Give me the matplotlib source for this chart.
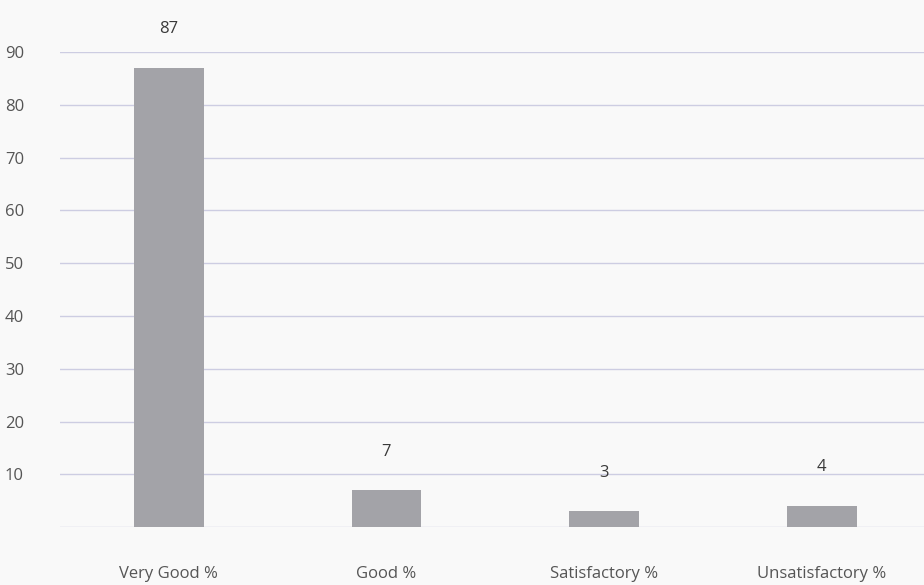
#!/usr/bin/env python3
import matplotlib
matplotlib.use("Agg")
import matplotlib.pyplot as plt

categories = ["Very Good %", "Good %", "Satisfactory %", "Unsatisfactory %"]
values = [87, 7, 3, 4]
yticks = [0, 10, 20, 30, 40, 50, 60, 70, 80, 90]
ytick_labels = ["", "10", "20", "30", "40", "50", "60", "70", "80", "90"]

plt.rcParams['font.family'] = ['Open Sans', 'DejaVu Sans']

fig = plt.figure(figsize=(9.24, 5.85), dpi=100, facecolor="#f9f9f9")
ax = fig.add_axes([0.065, 0.099, 0.935, 0.812])
ax.set_facecolor("#f9f9f9")

xs = list(range(len(categories)))
ax.bar(xs, values, width=0.32, color="#a3a3a8", zorder=3)

for x, v in zip(xs, values):
    ax.annotate(str(v), (x, v), xytext=(0, 22), textcoords="offset points",
                ha="center", va="bottom", fontsize=12, color="#3a3a3a",
                annotation_clip=False)

ax.set_xlim(-0.5, 3.47)
ax.set_ylim(0, 90)
ax.set_yticks(yticks)
ax.set_yticklabels(ytick_labels)
ax.set_xticks(xs)
ax.set_xticklabels(categories)
ax.grid(axis="y", color="#cdcde2", linewidth=1, zorder=0)
ax.tick_params(axis="both", length=0, labelsize=12, labelcolor="#555555")
ax.tick_params(axis="x", pad=28)
ax.tick_params(axis="y", pad=26)
for s in ax.spines.values():
    s.set_visible(False)

fig.savefig("out.png", dpi=100, facecolor=fig.get_facecolor())
